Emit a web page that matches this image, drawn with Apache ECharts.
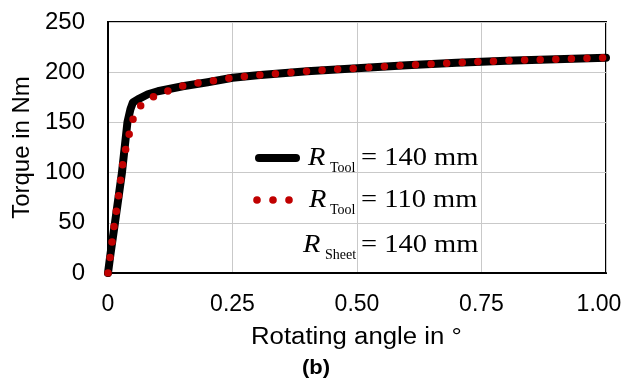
<!DOCTYPE html>
<html>
<head>
<meta charset="utf-8">
<script src="https://cdn.jsdelivr.net/npm/echarts@6/dist/echarts.min.js"></script>
<style>
  html, body { margin: 0; padding: 0; background: #fff; }
  #chart { width: 632px; height: 385px; }
</style>
</head>
<body>
<div id="chart"></div>
<script>
// Torque over rotating angle for two tool radii
const angleTool140 = [0, 0.005, 0.014, 0.028, 0.039, 0.045, 0.050, 0.060, 0.080, 0.100, 0.150, 0.200, 0.250, 0.300, 0.400, 0.500, 0.600, 0.700, 0.800, 0.900, 1.000];
const torqueTool140 = [0, 19, 50, 100, 150, 163, 170, 173, 178, 181, 186, 190, 194.5, 197, 201, 204, 207, 209.5, 211.5, 213, 214.5];

const angleTool110 = [0, 0.004, 0.012, 0.021, 0.029, 0.035, 0.042, 0.049, 0.064, 0.089, 0.118, 0.148, 0.179, 0.250, 0.300, 0.400, 0.500, 0.600, 0.700, 0.800, 0.900, 1.000];
const torqueTool110 = [0, 15, 46, 76, 107, 122, 137, 152, 166, 175, 181, 186, 189, 194.5, 197, 201, 204, 207, 209.5, 211.5, 213, 214.5];

const xTicks = [0, 0.25, 0.5, 0.75, 1.0];
const yTicks = [0, 50, 100, 150, 200, 250];

const pairs = (xs, ys) => xs.map((x, i) => [x, ys[i]]);

const SANS = 'Liberation Sans, Arial, sans-serif';
const SERIF = 'Liberation Serif, Times New Roman, serif';
const RED = '#C00000';

const chart = echarts.init(document.getElementById('chart'), null, { renderer: 'canvas' });

// One legend line: italic R, a subscript and the value, widened slightly
function legendRow(y, sub, value, rx, subx) {
  const wide = { scaleX: 1.14, originX: 0, originY: 0 };
  return [
    Object.assign({ type: 'text', left: rx, top: y - 13, z: 10,
      style: { text: 'R', font: 'italic 25px ' + SERIF, fill: '#000' } }, wide),
    { type: 'text', left: subx, top: y + 2, z: 10,
      style: { text: sub, font: '14px ' + SERIF, fill: '#000' } },
    Object.assign({ type: 'text', left: 361, top: y - 13, z: 10,
      style: { text: '= ' + value, font: '25px ' + SERIF, fill: '#000' } }, wide)
  ];
}

const legendGraphics = [
  { type: 'line', z: 10,
    shape: { x1: 259, y1: 158, x2: 296, y2: 158 },
    style: { stroke: '#000', lineWidth: 8, lineCap: 'round' } },
  { type: 'circle', z: 10, shape: { cx: 257, cy: 200, r: 3.8 }, style: { fill: RED } },
  { type: 'circle', z: 10, shape: { cx: 273, cy: 200, r: 3.8 }, style: { fill: RED } },
  { type: 'circle', z: 10, shape: { cx: 289, cy: 200, r: 3.8 }, style: { fill: RED } },
  ...legendRow(159, 'Tool', '140 mm', 308, 330),
  ...legendRow(201, 'Tool', '110 mm', 309, 330),
  ...legendRow(246, 'Sheet', '140 mm', 303, 325),
  // x-axis title and panel label, drawn slightly widened
  { type: 'text', left: 251, top: 326, z: 10, scaleX: 1.12, originX: 0, originY: 0,
    style: { text: 'Rotating angle in °', font: '23px ' + SANS, fill: '#000' } },
  { type: 'text', left: 302, top: 358, z: 10, scaleX: 1.1, originX: 0, originY: 0,
    style: { text: '(b)', font: 'bold 20px ' + SANS, fill: '#000' } }
];

chart.setOption({
  animation: false,
  backgroundColor: '#fff',
  grid: {
    left: 108, right: 26, top: 22, bottom: 112,
    show: true, borderColor: '#000', borderWidth: 2
  },
  xAxis: {
    type: 'value',
    min: xTicks[0], max: xTicks[xTicks.length - 1], interval: 0.25,
    axisLine: { show: true, lineStyle: { color: '#000', width: 2 } },
    axisTick: { show: false },
    axisLabel: {
      fontFamily: SANS, fontSize: 23, color: '#000', margin: 20,
      formatter: v => (v === 0 ? '0' : v === 1 ? '{last|1.00}' : v.toFixed(2)),
      rich: { last: { fontFamily: SANS, fontSize: 23, color: '#000', padding: [0, 14, 0, 0] } }
    },
    splitLine: { show: true, lineStyle: { color: '#C9C9C9', width: 1 } }
  },
  yAxis: {
    type: 'value',
    min: yTicks[0], max: yTicks[yTicks.length - 1], interval: 50,
    name: 'Torque in Nm',
    nameLocation: 'middle', nameGap: 66,
    nameTextStyle: { fontFamily: SANS, fontSize: 24, color: '#000' },
    axisLine: { show: true, lineStyle: { color: '#000', width: 2 } },
    axisTick: { show: false },
    axisLabel: { fontFamily: SANS, fontSize: 24, color: '#000', margin: 23 },
    splitLine: { show: true, lineStyle: { color: '#C9C9C9', width: 1 } }
  },
  series: [
    {
      name: 'R Tool = 140 mm',
      type: 'line',
      data: pairs(angleTool140, torqueTool140),
      showSymbol: false,
      lineStyle: { color: '#000', width: 8, cap: 'round', join: 'round' },
      z: 3
    },
    {
      name: 'R Tool = 110 mm',
      type: 'line',
      data: pairs(angleTool110, torqueTool110),
      showSymbol: false,
      lineStyle: { color: RED, width: 7.5, type: [0, 15.6], cap: 'round', join: 'round' },
      z: 4
    }
  ],
  graphic: legendGraphics
});
</script>
</body>
</html>
